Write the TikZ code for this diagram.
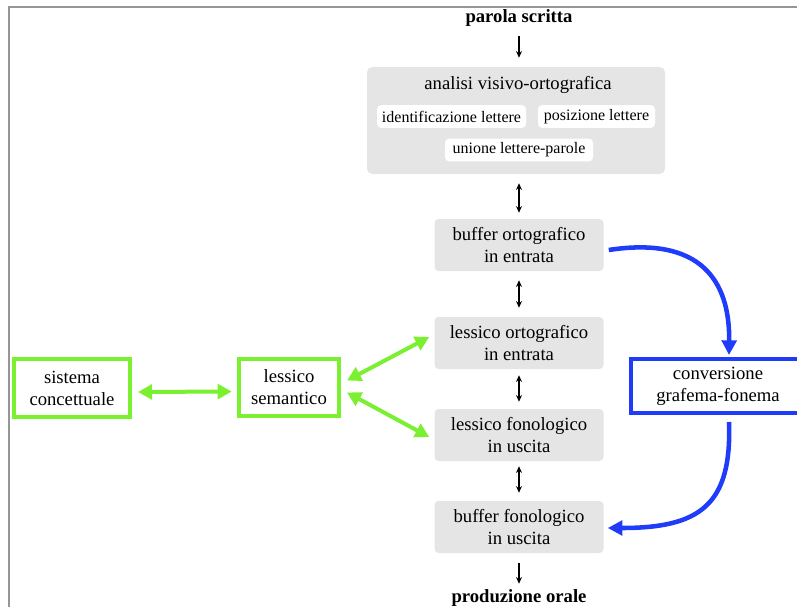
\documentclass[tikz,border=0pt]{standalone}
\usepackage{fontspec}
\setmainfont{Liberation Serif}
\usetikzlibrary{arrows.meta}
\definecolor{boxgray}{RGB}{229,229,229}
\definecolor{framegray}{RGB}{150,150,150}
\definecolor{lgreen}{RGB}{122,240,48}
\definecolor{vblue}{RGB}{30,60,250}
\tikzset{
  stage/.style={fill=boxgray, rounded corners=3pt, align=center,
    minimum width=126.75pt, minimum height=39pt, inner sep=0pt,
    font=\fontsize{14}{16.5}\selectfont},
  subbox/.style={fill=white, rounded corners=3pt, inner sep=0pt,
    minimum height=17pt, font=\fontsize{12}{13}\selectfont},
  greenbox/.style={draw=lgreen, line width=3pt, align=center, inner sep=0pt,
    font=\fontsize{14}{16.5}\selectfont},
  bluebox/.style={draw=vblue, line width=3pt, align=center, inner sep=0pt,
    font=\fontsize{14}{16.5}\selectfont},
  endlabel/.style={font=\fontsize{14}{15}\selectfont\bfseries, inner sep=0pt,
    text height=10pt, text depth=3pt},
  flow/.style={line width=1.1pt, -{Stealth[length=5pt,width=4.5pt]}},
  both/.style={line width=1.1pt, {Stealth[length=5pt,width=4.5pt]}-{Stealth[length=5pt,width=4.5pt]}},
  garrow/.style={draw=lgreen, line width=3pt,
    {Triangle[length=10.5pt,width=11pt]}-{Triangle[length=10.5pt,width=11pt]}},
  barrow/.style={draw=vblue, line width=3.4pt, -{Triangle[length=11pt,width=11pt]}},
}
\begin{document}
\begin{tikzpicture}[x=0.75pt,y=-0.75pt]
\useasboundingbox (0,0) rectangle (797,607);
% frame edges
\draw[framegray, line width=1.5pt] (9,620) -- (9,7) -- (810,7);

% top and bottom labels
\node[endlabel] (in) at (519,18) {parola scritta};
\node[endlabel] (out) at (519,598) {produzione orale};

% visual-orthographic analysis block
\node[fill=boxgray, rounded corners=4pt, minimum width=223.5pt, minimum height=80.25pt, inner sep=0pt] (ava) at (516,120.5) {};
\node[font=\fontsize{14}{15}\selectfont, inner sep=0pt] (avat) at (518,85) {analisi visivo-ortografica};
\node[subbox, minimum width=111.75pt] (id) at (451.5,116.5) {identificazione lettere};
\node[subbox, minimum width=87.75pt] (pos) at (596.5,116.5) {posizione lettere};
\node[subbox, minimum width=111pt] (un) at (519,150) {unione lettere-parole};

% central pipeline
\node[stage] (bo) at (519,245) {buffer ortografico\\in entrata};
\node[stage] (lo) at (519,343) {lessico ortografico\\in entrata};
\node[stage] (lf) at (519,435) {lessico fonologico\\in uscita};
\node[stage] (bf) at (519,527) {buffer fonologico\\in uscita};

% semantic side
\node[greenbox, minimum width=87pt, minimum height=43.5pt] (sc) at (72,388) {sistema\\concettuale};
\node[greenbox, minimum width=75pt, minimum height=42.75pt] (ls) at (289,387.5) {lessico\\semantico};

% sublexical route
\node[bluebox, minimum width=130.5pt, minimum height=40.5pt] (gf) at (718,386) {conversione\\grafema-fonema};

% black connectors
\draw[flow] ([yshift=-7pt]in.south) -- ([yshift=6.75pt]in.south |- ava.north);
\draw[both] ([yshift=-6.75pt]bo.north |- ava.south) -- ([yshift=4.5pt]bo.north);
\draw[both] ([yshift=-6.75pt]bo.south) -- ([yshift=6.75pt]lo.north);
\draw[both] ([yshift=-4.5pt]lo.south) -- ([yshift=5.25pt]lf.north);
\draw[both] ([yshift=-3.75pt]lf.south) -- ([yshift=6pt]bf.north);
\draw[flow] ([yshift=-7.5pt]bf.south) -- ([yshift=4pt]out.north);

% green connectors
\draw[garrow] ([xshift=4.5pt,yshift=-3pt]sc.east) -- ([xshift=-4pt,yshift=-3pt]ls.west);
\draw[garrow] ([xshift=4.5pt,yshift=5.25pt]ls.east) -- ([xshift=-3.75pt,yshift=4.5pt]lo.west);
\draw[garrow] ([xshift=4.5pt,yshift=-3.75pt]ls.east) -- ([xshift=-3.75pt,yshift=-1.5pt]lf.west);

% blue connectors
\draw[barrow] ([xshift=3.75pt,yshift=-3.75pt]bo.east) .. controls (700,236) and (730,280) .. ([xshift=8.25pt,yshift=1.5pt]gf.north);
\draw[barrow] ([xshift=8.25pt,yshift=-5.25pt]gf.south) .. controls (732,505) and (700,528) .. ([xshift=3pt,yshift=-0.75pt]bf.east);
\end{tikzpicture}
\end{document}
